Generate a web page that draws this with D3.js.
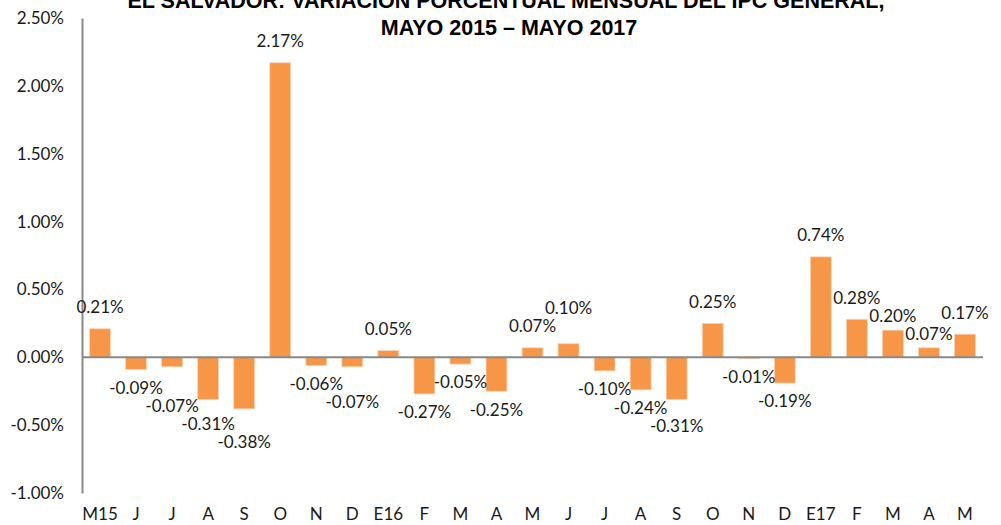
<!DOCTYPE html>
<html>
<head>
<meta charset="utf-8">
<script src="https://cdn.jsdelivr.net/npm/d3@7"></script>
<style>
  body { margin: 0; background: #fff; }
  svg { display: block; }
</style>
</head>
<body>
<svg class="chart" width="1001" height="525"></svg>
<script>
const months = ['M15', 'J', 'J', 'A', 'S', 'O', 'N', 'D', 'E16', 'F', 'M', 'A',
                'M', 'J', 'J', 'A', 'S', 'O', 'N', 'D', 'E17', 'F', 'M', 'A', 'M'];
const ipcVar = [0.21, -0.09, -0.07, -0.31, -0.38, 2.17, -0.06, -0.07, 0.05, -0.27, -0.05, -0.25,
                0.07, 0.10, -0.10, -0.24, -0.31, 0.25, -0.01, -0.19, 0.74, 0.28, 0.20, 0.07, 0.17];
const yTicks = [-1.0, -0.5, 0, 0.5, 1.0, 1.5, 2.0, 2.5];
const titleLines = ['EL SALVADOR: VARIACIÓN PORCENTUAL MENSUAL DEL IPC GENERAL,',
                    'MAYO 2015 – MAYO 2017'];

const plotL = 82, plotR = 983, plotT = 18, plotB = 493;
const font = 'Lato, Carlito, Calibri, sans-serif';
const fontSize = '17px';
const labelGap = 20;   // distance from bar end to label centre
const labelSep = 18;   // min vertical distance between neighbouring labels

const svg = d3.select('svg.chart');

const x = d3.scaleBand()
            .domain(d3.range(months.length))
            .range([plotL, plotR])
            .paddingInner(0.42)
            .paddingOuter(0.21);

const y = d3.scaleLinear()
            .domain([-1, 2.5])
            .range([plotB, plotT]);

const pct = d => d.toFixed(2) + '%';

// y axis
const yAxis = svg.append('g')
                 .attr('transform', `translate(${plotL},0)`)
                 .call(d3.axisLeft(y).tickValues(yTicks).tickFormat(pct).tickSize(0).tickPadding(18));
yAxis.select('.domain').attr('stroke', '#898989').attr('stroke-width', 2);
yAxis.selectAll('text')
     .style('font-family', font)
     .style('font-size', fontSize)
     .attr('fill', '#1a1a1a');

// bars
svg.append('g')
   .selectAll('rect')
   .data(ipcVar)
   .enter()
   .append('rect')
   .attr('x', (d, i) => x(i))
   .attr('y', d => y(Math.max(0, d)))
   .attr('width', x.bandwidth())
   .attr('height', d => Math.abs(y(d) - y(0)))
   .attr('fill', '#f79646')
   .attr('stroke', '#fbd3b5')
   .attr('stroke-width', 0.8);

// zero line, drawn over the bars
svg.append('line')
   .attr('x1', plotL).attr('x2', plotR)
   .attr('y1', y(0)).attr('y2', y(0))
   .attr('stroke', '#898989')
   .attr('stroke-width', 2);

// category labels along the bottom
const xAxis = svg.append('g')
                 .attr('transform', `translate(0,${plotB})`)
                 .call(d3.axisBottom(x).tickFormat(i => months[i]).tickSize(0).tickPadding(0));
xAxis.select('.domain').remove();
xAxis.selectAll('text')
     .attr('dy', null)
     .attr('y', 27)
     .style('font-family', font)
     .style('font-size', fontSize)
     .attr('fill', '#1a1a1a');

// data label placement: outside the bar end, nudged when it collides
// with the label of the neighbouring bar on the same side
const labelY = [];
ipcVar.forEach((d, i) => {
  const dir = d >= 0 ? -1 : 1;          // -1 = upwards, 1 = downwards
  const end = y(d);
  let ly = end + dir * labelGap;
  if (i > 0 && Math.sign(ipcVar[i - 1] || 1) === Math.sign(d || 1)) {
    const prev = labelY[i - 1];
    if (Math.abs(ly - prev) < labelSep) {
      const away = prev + dir * labelSep;
      const toward = prev - dir * labelSep;
      const towardOk = (toward - end) * dir >= 10;
      ly = (towardOk && Math.abs(toward - ly) < Math.abs(away - ly)) ? toward : away;
    }
  }
  labelY.push(ly);
});

svg.append('g')
   .selectAll('text')
   .data(ipcVar)
   .enter()
   .append('text')
   .attr('x', (d, i) => x(i) + x.bandwidth() / 2)
   .attr('y', (d, i) => labelY[i])
   .attr('text-anchor', 'middle')
   .attr('dominant-baseline', 'middle')
   .style('font-family', font)
   .style('font-size', fontSize)
   .attr('fill', '#1a1a1a')
   .text(pct);

// title (first line is cut by the top edge, as in the original)
svg.append('g')
   .selectAll('text')
   .data(titleLines)
   .enter()
   .append('text')
   .attr('x', (d, i) => 506 + i * 3)
   .attr('y', (d, i) => 8 + i * 27)
   .attr('text-anchor', 'middle')
   .style('font-family', '"Liberation Sans", Arial, sans-serif')
   .style('font-weight', 'bold')
   .style('font-size', '21.5px')
   .attr('fill', '#000')
   .text(d => d);
</script>
</body>
</html>
